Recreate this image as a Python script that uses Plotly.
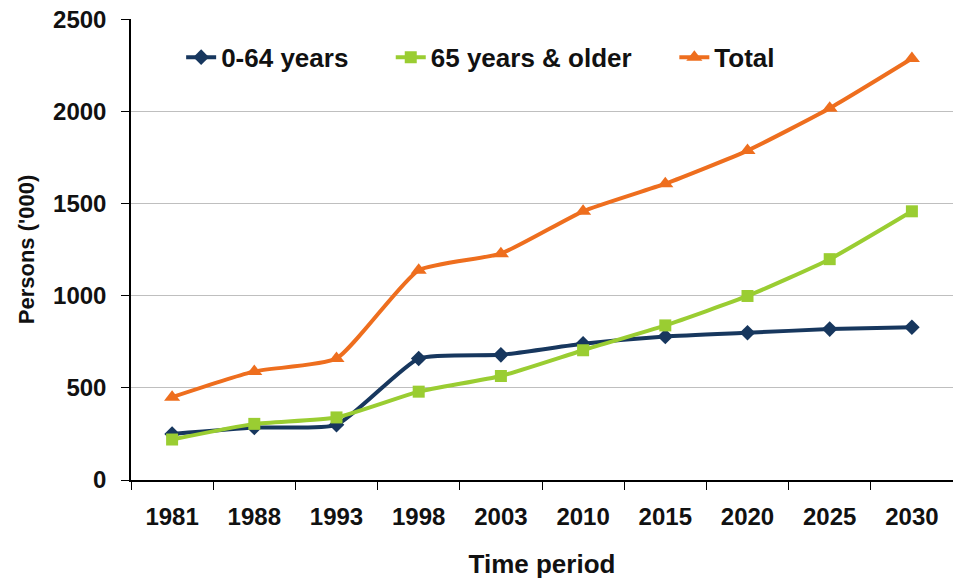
import plotly.graph_objects as go

periods = ["1981", "1988", "1993", "1998", "2003", "2010", "2015", "2020", "2025", "2030"]
age_0_64 = [250, 285, 300, 660, 680, 740, 780, 800, 820, 830]
age_65_plus = [220, 305, 340, 480, 565, 705, 840, 1000, 1200, 1460]
total = [450, 590, 660, 1140, 1230, 1460, 1610, 1790, 2020, 2290]
y_ticks = [0, 500, 1000, 1500, 2000, 2500]

FONT = "Liberation Sans, Arial, sans-serif"

fig = go.Figure()
fig.add_trace(go.Scatter(
    x=periods, y=age_0_64, name="0-64 years", mode="lines+markers", legend="legend",
    line=dict(color="#17375E", width=4, shape="spline", smoothing=0.5),
    marker=dict(symbol="diamond", size=12, color="#17375E")))
fig.add_trace(go.Scatter(
    x=periods, y=age_65_plus, name="65 years & older", mode="lines+markers", legend="legend2",
    line=dict(color="#9ACD32", width=4, shape="spline", smoothing=0.5),
    marker=dict(symbol="square", size=12, color="#9ACD32")))
fig.add_trace(go.Scatter(
    x=periods, y=total, name="Total", mode="lines+markers", legend="legend3",
    line=dict(color="#EE6E1E", width=4, shape="spline", smoothing=0.5),
    marker=dict(symbol="triangle-up", size=14, color="#EE6E1E")))

legend_font = dict(family=FONT, size=26, color="#111111", weight="bold")
common = dict(orientation="h", y=0.917, xanchor="left", yanchor="middle",
              bgcolor="rgba(0,0,0,0)", font=legend_font)

fig.update_layout(
    width=953, height=580,
    margin=dict(l=131, r=0, t=19, b=100),
    paper_bgcolor="white", plot_bgcolor="white",
    font=dict(family=FONT, size=24, color="#111111"),
    showlegend=True,
    legend=dict(x=0.061, **common),
    legend2=dict(x=0.316, **common),
    legend3=dict(x=0.661, **common),
    xaxis=dict(
        type="category", range=[-0.5, 9.5],
        showline=True, linecolor="#000000", linewidth=1.5,
        ticks="outside", ticklen=8, tickcolor="#000000", tickson="boundaries",
        ticklabelstandoff=14,
        showgrid=False,
        tickfont=dict(family=FONT, size=24, weight="bold"),
        title=dict(text="Time period", font=dict(family=FONT, size=26, weight="bold"), standoff=26),
    ),
    yaxis=dict(
        range=[0, 2505], tickmode="array", tickvals=y_ticks,
        showline=True, linecolor="#000000", linewidth=1.5,
        ticks="outside", ticklen=8, tickcolor="#000000",
        ticklabelstandoff=10,
        showgrid=True, gridcolor="#BFBFBF", gridwidth=1.2,
        zeroline=False,
        tickfont=dict(family=FONT, size=24, weight="bold"),
        title=dict(text="Persons ('000)", font=dict(family=FONT, size=22, weight="bold"), standoff=12),
    ),
)

fig.write_html("out.html", config={"displayModeBar": False},
               post_script="document.body.style.margin='0';")
